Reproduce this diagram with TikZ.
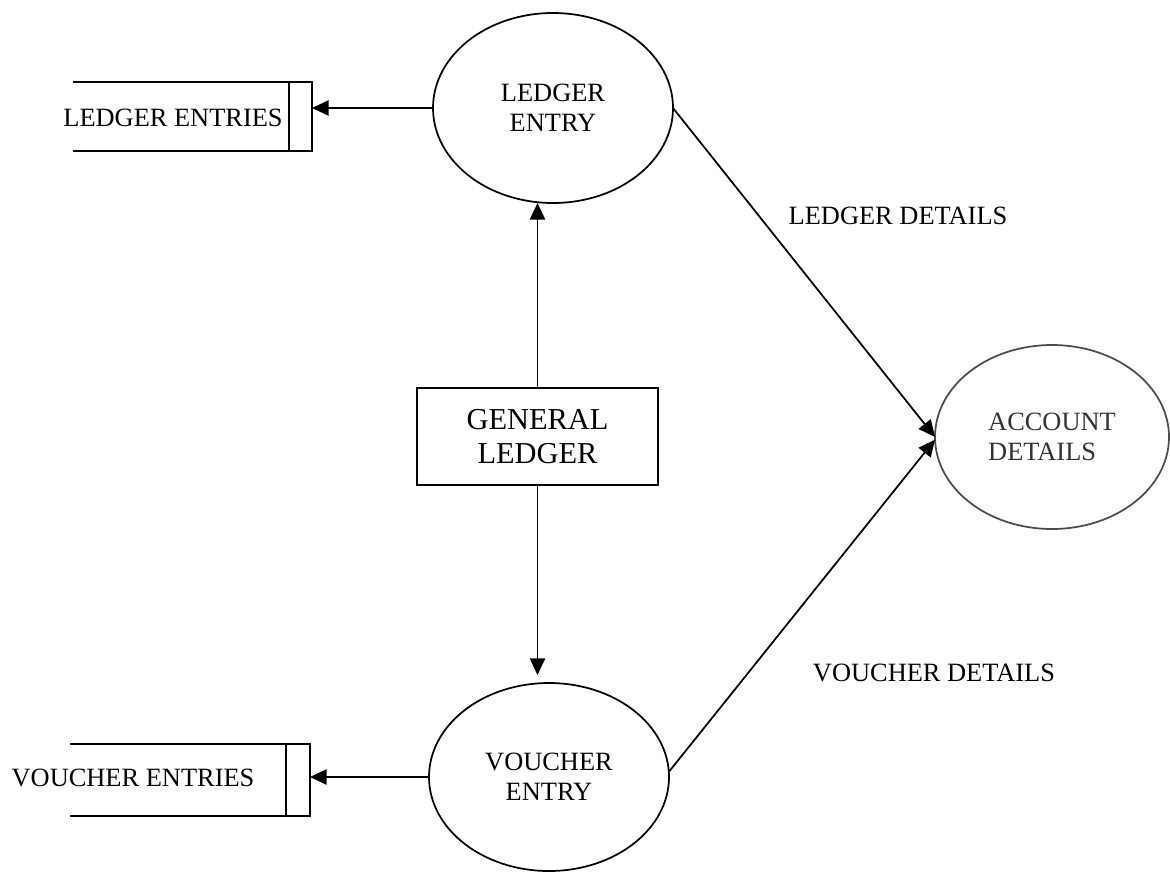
\documentclass[tikz,border=0pt]{standalone}
\usepackage{fontspec}
\setmainfont{Liberation Serif}
\usetikzlibrary{shapes.geometric,arrows.meta}

\begin{document}
\begin{tikzpicture}[x=0.75pt,y=-0.75pt,
  every node/.style={inner sep=0pt,outer sep=0pt},
  flowline/.style={line width=1.3pt},
  flowarrow/.style={flowline,-{Triangle[length=12.5pt,width=11.5pt]}},
  process/.style={ellipse,draw,line width=1.3pt,align=center,
    font=\fontsize{19.8}{22.5}\selectfont},
  storebox/.style={rectangle,draw=none},
  storetext/.style={font=\fontsize{19.8}{22.5}\selectfont},
  entitybox/.style={rectangle,draw,line width=1.3pt,align=center,
    font=\fontsize{22.8}{26}\selectfont},
  flowlabel/.style={font=\fontsize{19.8}{22.5}\selectfont}]

\useasboundingbox (0,0) rectangle (1170,872);

% processes
\node[process,minimum width=180pt,minimum height=142.5pt] (le) at (553,108) {LEDGER\\ENTRY};
\node[process,minimum width=180pt,minimum height=141pt] (ve) at (549,777) {VOUCHER\\ENTRY};
\node[process,draw=black!70,text=black!80,align=left,
  minimum width=175.5pt,minimum height=138pt] (ad) at (1052,437) {ACCOUNT\\DETAILS};

% external entity
\node[entitybox,minimum width=180.75pt,minimum height=72.75pt] (gl) at (537.5,436.5) {GENERAL\\LEDGER};

% data stores (open on the left)
\node[storebox,minimum width=179.25pt,minimum height=51.75pt] (ls) at (192.5,116.5) {};
\node[storetext] (lst) at (173,118) {LEDGER ENTRIES};
\draw[flowline] (ls.north west) -- (ls.north east) -- (ls.south east) -- (ls.south west);
\draw[flowline] ([xshift=-17.25pt]ls.north east) -- ([xshift=-17.25pt]ls.south east);

\node[storebox,minimum width=180pt,minimum height=54pt] (vs) at (190,780) {};
\node[storetext] (vst) at (133,778) {VOUCHER ENTRIES};
\draw[flowline] (vs.north west) -- (vs.north east) -- (vs.south east) -- (vs.south west);
\draw[flowline] ([xshift=-18pt]vs.north east) -- ([xshift=-18pt]vs.south east);

% flows
\draw[flowarrow] (le.west) -- (le.west -| ls.east);
\draw[flowarrow] (ve.west) -- (ve.west -| vs.east);
\draw[flowarrow] (gl.north) -- (gl.north |- le.south);
\draw[flowarrow,shorten >=6pt] (gl.south) -- (gl.south |- ve.north);
\draw[flowarrow] (le.east) -- (ad.west);
\draw[flowarrow] ([yshift=4pt]ve.east) -- ([yshift=-2pt]ad.west);

% flow labels
\node[flowlabel] (ldl) at (898,216) {LEDGER DETAILS};
\node[flowlabel] (vdl) at (934,673) {VOUCHER DETAILS};
\end{tikzpicture}
\end{document}
